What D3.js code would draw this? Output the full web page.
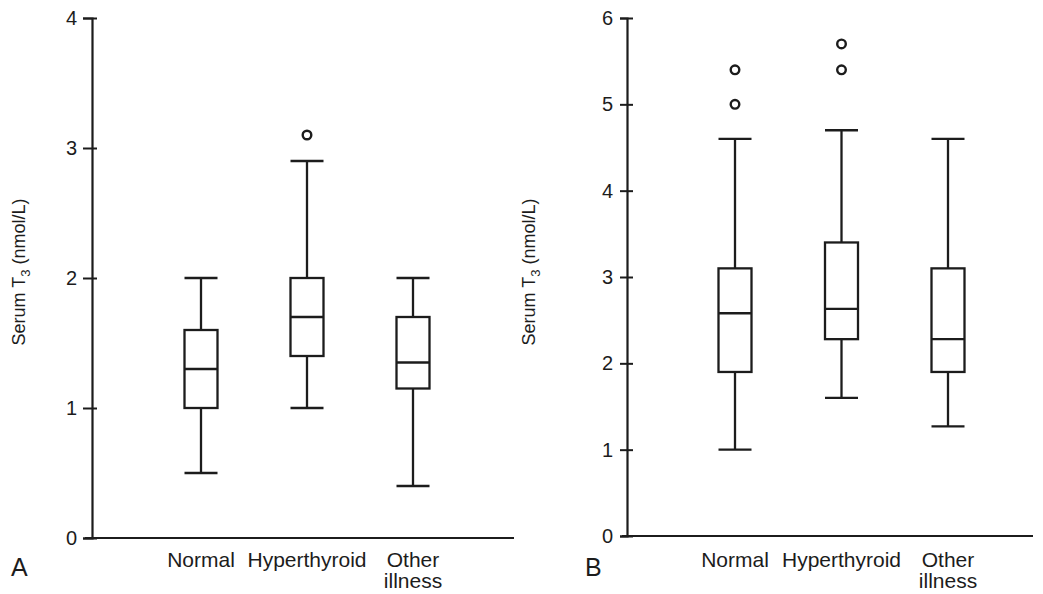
<!DOCTYPE html>
<html>
<head>
<meta charset="utf-8">
<script src="https://cdn.jsdelivr.net/npm/d3@7"></script>
<style>
  html, body { margin: 0; padding: 0; background: #fff; }
  svg { display: block; font-family: "Liberation Sans", Arial, Helvetica, sans-serif; }
</style>
</head>
<body>
<svg id="chart" width="1043" height="594"></svg>
<script>
// ---- data ----
const categories = ["Normal", "Hyperthyroid", "Other illness"];

const aTicks = [0, 1, 2, 3, 4];
const aLow = [0.5, 1.0, 0.4];
const aQ1 = [1.0, 1.4, 1.15];
const aMedian = [1.3, 1.7, 1.35];
const aQ3 = [1.6, 2.0, 1.7];
const aHigh = [2.0, 2.9, 2.0];
const aOutliers = [[], [3.1], []];

const bTicks = [0, 1, 2, 3, 4, 5, 6];
const bLow = [1.0, 1.6, 1.27];
const bQ1 = [1.9, 2.28, 1.9];
const bMedian = [2.58, 2.63, 2.28];
const bQ3 = [3.1, 3.4, 3.1];
const bHigh = [4.6, 4.7, 4.6];
const bOutliers = [[5.4, 5.0], [5.7, 5.4], []];

const yTitle = "Serum T";
const yTitleSub = "3";
const yTitleRest = " (nmol/L)";

// ---- drawing ----
const ink = "#1c1c1c";
const svg = d3.select("#chart");

function panel(cfg) {
  const g = svg.append("g");
  const y = d3.scaleLinear().domain([0, cfg.ticks[cfg.ticks.length - 1]]).range([cfg.y0, cfg.yTop]);
  const x = d3.scalePoint().domain(categories).range([cfg.xFirst, cfg.xLast]);

  // y axis
  const ax = g.append("g")
    .attr("transform", `translate(${cfg.axisX},0)`)
    .call(d3.axisLeft(y).tickValues(cfg.ticks).tickFormat(d3.format("d")).tickSizeOuter(0).tickSize(cfg.tickL).tickPadding(cfg.pad));
  ax.select(".domain").attr("stroke", ink).attr("stroke-width", 2.2);
  ax.selectAll(".tick line").attr("stroke", ink).attr("stroke-width", 2).attr("x2", -cfg.tickL).attr("x1", cfg.tickR);
  ax.selectAll(".tick text").attr("fill", ink).style("font-size", "20px").style("font-family", "'Liberation Sans', Arial, sans-serif");

  // x axis line
  g.append("line")
    .attr("x1", cfg.axisX - cfg.tickL + 2).attr("x2", cfg.xEnd)
    .attr("y1", y(0)).attr("y2", y(0))
    .attr("stroke", ink).attr("stroke-width", 2.2);

  // category labels
  categories.forEach((c, i) => {
    const words = c === "Other illness" ? ["Other", "illness"] : [c];
    const t = g.append("text")
      .attr("x", x(c)).attr("y", cfg.labelY)
      .attr("text-anchor", "middle")
      .attr("fill", ink).style("font-size", "21px");
    words.forEach((w, k) => {
      t.append("tspan").attr("x", x(c)).attr("dy", k === 0 ? 0 : 21).text(w);
    });
  });

  // y title
  const tt = g.append("text")
    .attr("transform", `translate(${cfg.titleX},${cfg.titleY}) rotate(-90)`)
    .attr("text-anchor", "middle")
    .attr("fill", ink).style("font-size", "18px");
  tt.append("tspan").text(yTitle);
  tt.append("tspan").attr("dy", 5).style("font-size", "13px").text(yTitleSub);
  tt.append("tspan").attr("dy", -5).text(yTitleRest);

  // panel letter
  g.append("text").attr("x", cfg.letterX).attr("y", 576)
    .attr("fill", ink).style("font-size", "25px").text(cfg.letter);

  // boxes
  const bw = 33;
  const data = categories.map((c, i) => ({
    c, low: cfg.low[i], q1: cfg.q1[i], med: cfg.med[i], q3: cfg.q3[i], high: cfg.high[i], out: cfg.out[i]
  }));
  const bx = g.selectAll("g.box").data(data).join("g").attr("class", "box");
  const st = s => s.attr("stroke", ink).attr("stroke-width", 2.3).attr("fill", "none");
  // whiskers
  bx.append("line").attr("x1", d => x(d.c)).attr("x2", d => x(d.c)).attr("y1", d => y(d.q3)).attr("y2", d => y(d.high)).call(st);
  bx.append("line").attr("x1", d => x(d.c)).attr("x2", d => x(d.c)).attr("y1", d => y(d.q1)).attr("y2", d => y(d.low)).call(st);
  // caps
  bx.append("line").attr("x1", d => x(d.c) - bw / 2).attr("x2", d => x(d.c) + bw / 2).attr("y1", d => y(d.high)).attr("y2", d => y(d.high)).call(st);
  bx.append("line").attr("x1", d => x(d.c) - bw / 2).attr("x2", d => x(d.c) + bw / 2).attr("y1", d => y(d.low)).attr("y2", d => y(d.low)).call(st);
  // box
  bx.append("rect").attr("x", d => x(d.c) - bw / 2).attr("width", bw)
    .attr("y", d => y(d.q3)).attr("height", d => y(d.q1) - y(d.q3)).call(st).attr("fill", "#fff");
  // median
  bx.append("line").attr("x1", d => x(d.c) - bw / 2).attr("x2", d => x(d.c) + bw / 2).attr("y1", d => y(d.med)).attr("y2", d => y(d.med)).call(st);
  // outliers
  bx.selectAll("circle").data(d => d.out.map(v => ({ c: d.c, v }))).join("circle")
    .attr("cx", d => x(d.c)).attr("cy", d => y(d.v)).attr("r", 4.3)
    .attr("fill", "#fff").attr("stroke", ink).attr("stroke-width", 2.4);
}

panel({
  ticks: aTicks, y0: 538, yTop: 18, axisX: 92, tickL: 9, tickR: 5, pad: 6,
  xFirst: 201, xLast: 413, xEnd: 514, labelY: 567, titleX: 25, titleY: 272,
  letter: "A", letterX: 11,
  low: aLow, q1: aQ1, med: aMedian, q3: aQ3, high: aHigh, out: aOutliers
});
panel({
  ticks: bTicks, y0: 536, yTop: 18, axisX: 627, tickL: 7, tickR: 6, pad: 7,
  xFirst: 735, xLast: 948, xEnd: 1033, labelY: 567, titleX: 535, titleY: 272,
  letter: "B", letterX: 585,
  low: bLow, q1: bQ1, med: bMedian, q3: bQ3, high: bHigh, out: bOutliers
});
</script>
</body>
</html>
